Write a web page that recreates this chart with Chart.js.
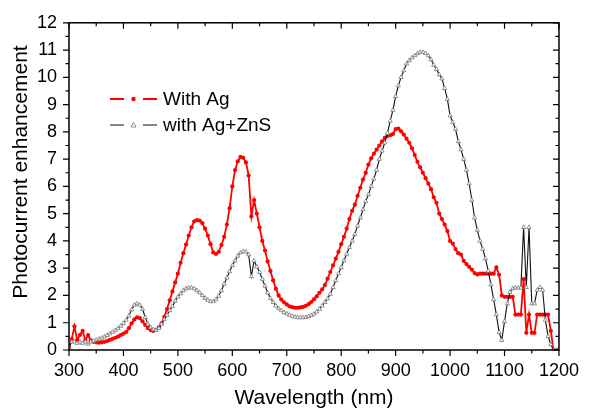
<!doctype html>
<html lang="en">
<head>
  <meta charset="utf-8">
  <title>Photocurrent enhancement</title>
  <script src="https://cdn.jsdelivr.net/npm/chart.js@4.4.0/dist/chart.umd.min.js"></script>
  <style>
    body { margin: 0; background: #fff; }
  </style>
</head>
<body>
  <canvas id="myChart" width="589" height="411"></canvas>
  <script>
    // wavelength (nm), 5 nm step from 300 to 1200
    const wavelength = [];
    for (let w = 300; w <= 1200; w += 5) wavelength.push(w);

    // With Ag (red)
    const withAg = [
      0.1, 0.4, 0.87, 0.36, 0.55, 0.7, 0.36, 0.55, 0.35, 0.3,
      0.28, 0.27, 0.28, 0.3, 0.33, 0.37, 0.41, 0.45, 0.49, 0.55,
      0.6, 0.66, 0.8, 0.98, 1.12, 1.2, 1.17, 1.05, 0.92, 0.8,
      0.73, 0.7, 0.74, 0.83, 0.98, 1.22, 1.5, 1.82, 2.15, 2.48,
      2.8, 3.2, 3.55, 3.87, 4.2, 4.5, 4.72, 4.76, 4.75, 4.65,
      4.45, 4.2, 3.88, 3.58, 3.52, 3.6, 3.85, 4.15, 4.6, 5.2,
      6.0, 6.6, 6.92, 7.08, 7.05, 6.88, 6.4, 4.9, 5.5, 5.0,
      4.5, 4.0, 3.65, 3.25, 2.9, 2.55, 2.25, 2.0, 1.85, 1.75,
      1.67, 1.6, 1.57, 1.55, 1.55, 1.56, 1.58, 1.62, 1.68, 1.76,
      1.86, 1.97, 2.1, 2.22, 2.38, 2.62, 2.86, 3.1, 3.35, 3.6,
      3.88, 4.15, 4.45, 4.8, 5.1, 5.33, 5.65, 5.95, 6.25, 6.5,
      6.8, 7.03, 7.2, 7.35, 7.5, 7.65, 7.78, 7.85, 7.88, 7.92,
      8.1, 8.12, 8.02, 7.9, 7.75, 7.6, 7.4, 7.15, 6.9, 6.7,
      6.5, 6.3, 6.1, 5.9, 5.6, 5.4, 5.0, 4.8, 4.6, 4.36,
      4.0, 3.9, 3.7, 3.55, 3.5, 3.27, 3.15, 3.05, 2.95, 2.82,
      2.77, 2.8, 2.8, 2.8, 2.8, 2.8, 2.8, 3.03, 2.76, 2.0,
      1.95, 1.95, 1.95, 1.95, 1.3, 1.3, 1.3, 2.6, 0.63, 1.3,
      0.63, 0.63, 1.3, 1.3, 1.3, 1.3, 1.3, 0.7, 0.0, 0.0,
      0.0
    ];

    // with Ag+ZnS (black)
    const withAgZnS = [
      0.1, 0.3, 0.3, 0.25, 0.3, 0.25, 0.3, 0.22, 0.3, 0.33,
      0.37, 0.4, 0.44, 0.48, 0.54, 0.6, 0.66, 0.72, 0.79, 0.88,
      0.98, 1.1, 1.25, 1.48, 1.65, 1.7, 1.65, 1.5, 1.2, 0.95,
      0.82, 0.75, 0.73, 0.8, 0.95, 1.12, 1.28, 1.45, 1.6, 1.8,
      1.95, 2.07, 2.18, 2.25, 2.28, 2.28, 2.25, 2.18, 2.1, 2.0,
      1.9, 1.83, 1.78, 1.78, 1.85, 1.98, 2.18, 2.42, 2.65, 2.88,
      3.1, 3.28, 3.45, 3.57, 3.62, 3.6, 3.5, 2.7, 3.27, 3.05,
      2.85, 2.6, 2.35, 2.1, 1.9, 1.75, 1.62, 1.52, 1.45, 1.38,
      1.33, 1.28, 1.24, 1.21, 1.19, 1.19, 1.19, 1.2, 1.23, 1.27,
      1.32, 1.4, 1.5, 1.62, 1.75, 1.88, 2.05, 2.3, 2.55, 2.8,
      3.03, 3.28, 3.52, 3.76, 4.0, 4.24, 4.55, 4.85, 5.15, 5.45,
      5.7, 6.0, 6.28, 6.6, 7.0, 7.3, 7.6, 7.95, 8.4, 8.8,
      9.3, 9.7, 10.0, 10.25, 10.5, 10.62, 10.72, 10.8, 10.87, 10.92,
      10.92, 10.88, 10.8, 10.65, 10.45, 10.3, 10.1, 9.95, 9.6, 9.2,
      8.6, 8.35, 8.1, 7.65, 7.35, 7.0, 6.6, 6.1, 5.5, 4.85,
      4.4, 4.0, 3.7, 3.35, 2.9, 2.4, 1.85, 1.3, 0.65, 0.36,
      1.05, 1.7, 2.12, 2.25, 2.28, 2.28, 2.28, 4.5, 2.3, 4.5,
      1.7, 1.7, 2.2, 2.3, 2.2, 1.1, 0.5, 0.2, 0.0, 0.0,
      0.0
    ];

    const xTicks = [300, 400, 500, 600, 700, 800, 900, 1000, 1100, 1200];
    const yTicks = [0, 1, 2, 3, 4, 5, 6, 7, 8, 9, 10, 11, 12];
    const seriesNames = ['With Ag', 'with Ag+ZnS'];
    const yTitle = 'Photocurrent enhancement';

    const FONT = 'Arial, "Liberation Sans", sans-serif';

    function toPoints(ys) {
      return wavelength.map((w, i) => ({ x: w, y: ys[i] }));
    }

    // frame, ticks (out on bottom/left, in on top/right), y title and the legend
    const decorations = {
      id: 'decorations',
      afterDraw(chart) {
        const ctx = chart.ctx;
        const a = chart.chartArea;
        const xs = chart.scales.x;
        const ys = chart.scales.y;
        ctx.save();
        ctx.strokeStyle = '#000';
        ctx.lineWidth = 1.5;
        ctx.strokeRect(a.left, a.top, a.right - a.left, a.bottom - a.top);

        ctx.lineWidth = 1.2;
        ctx.beginPath();
        for (let v = 300; v <= 1200; v += 50) {
          const px = xs.getPixelForValue(v);
          const len = (v % 100 === 0) ? 6 : 3.5;
          ctx.moveTo(px, a.bottom); ctx.lineTo(px, a.bottom + len);
          ctx.moveTo(px, a.top); ctx.lineTo(px, a.top + len);
        }
        for (let v = 0; v <= 12; v += 0.5) {
          const py = ys.getPixelForValue(v);
          const len = (v % 1 === 0) ? 6 : 3.5;
          ctx.moveTo(a.left, py); ctx.lineTo(a.left - len, py);
          ctx.moveTo(a.right, py); ctx.lineTo(a.right - len, py);
        }
        ctx.stroke();

        // y axis title
        ctx.save();
        ctx.translate(21, 172);
        ctx.rotate(-Math.PI / 2);
        ctx.font = '21px ' + FONT;
        ctx.fillStyle = '#000';
        ctx.textAlign = 'center';
        ctx.textBaseline = 'middle';
        ctx.fillText(yTitle, 0, 0);
        ctx.restore();

        // legend
        const items = [
          { name: seriesNames[0], y: 99, color: 'red', width: 1.8 },
          { name: seriesNames[1], y: 125, color: '#111', width: 1.1 }
        ];
        ctx.font = '19px ' + FONT;
        ctx.textBaseline = 'middle';
        items.forEach((it, i) => {
          ctx.strokeStyle = it.color;
          ctx.lineWidth = it.width;
          ctx.beginPath();
          ctx.moveTo(110, it.y); ctx.lineTo(124, it.y);
          ctx.moveTo(143, it.y); ctx.lineTo(157, it.y);
          ctx.stroke();
          if (i === 0) {
            ctx.fillStyle = 'red';
            ctx.beginPath();
            ctx.arc(133.5, it.y, 2.2, 0, Math.PI * 2);
            ctx.fill();
          } else {
            ctx.strokeStyle = '#777';
            ctx.lineWidth = 0.8;
            ctx.beginPath();
            ctx.moveTo(133.5, it.y - 2.5);
            ctx.lineTo(136, it.y + 2);
            ctx.lineTo(131, it.y + 2);
            ctx.closePath();
            ctx.stroke();
          }
          ctx.fillStyle = '#000';
          ctx.fillText(it.name, 163, it.y + 1);
        });
        ctx.restore();
      }
    };

    new Chart(document.getElementById('myChart').getContext('2d'), {
      type: 'line',
      data: {
        datasets: [
          {
            label: seriesNames[1],
            data: toPoints(withAgZnS),
            borderColor: '#111',
            borderWidth: 1.1,
            pointStyle: 'triangle',
            pointRadius: 2.4,
            pointBackgroundColor: '#fff',
            pointBorderColor: '#777',
            pointBorderWidth: 0.8,
            tension: 0
          },
          {
            label: seriesNames[0],
            data: toPoints(withAg),
            borderColor: 'red',
            borderWidth: 1.8,
            pointStyle: 'circle',
            pointRadius: 2.1,
            pointBackgroundColor: 'red',
            pointBorderColor: 'red',
            pointBorderWidth: 0,
            tension: 0
          }
        ]
      },
      options: {
        responsive: false,
        animation: false,
        layout: { padding: { top: 20, right: 26, left: 0, bottom: 0 } },
        plugins: {
          legend: { display: false },
          tooltip: { enabled: false }
        },
        scales: {
          x: {
            type: 'linear',
            min: 300,
            max: 1200,
            afterBuildTicks(scale) { scale.ticks = xTicks.map(v => ({ value: v })); },
            afterFit(scale) { scale.height = 61; },
            grid: { display: false, drawTicks: false },
            border: { display: false },
            ticks: {
              color: '#000',
              font: { size: 18, family: FONT },
              padding: 10,
              maxRotation: 0,
              callback: v => String(v)
            },
            title: {
              display: true,
              text: 'Wavelength (nm)',
              color: '#000',
              font: { size: 21, family: FONT },
              padding: { top: 0, bottom: 0 }
            }
          },
          y: {
            min: 0,
            max: 12,
            afterBuildTicks(scale) { scale.ticks = yTicks.map(v => ({ value: v })); },
            afterFit(scale) { scale.width = 69; },
            grid: { display: false, drawTicks: false },
            border: { display: false },
            ticks: {
              color: '#000',
              font: { size: 18, family: FONT },
              padding: 12,
              callback: v => String(v)
            }
          }
        }
      },
      plugins: [decorations]
    });
  </script>
</body>
</html>
